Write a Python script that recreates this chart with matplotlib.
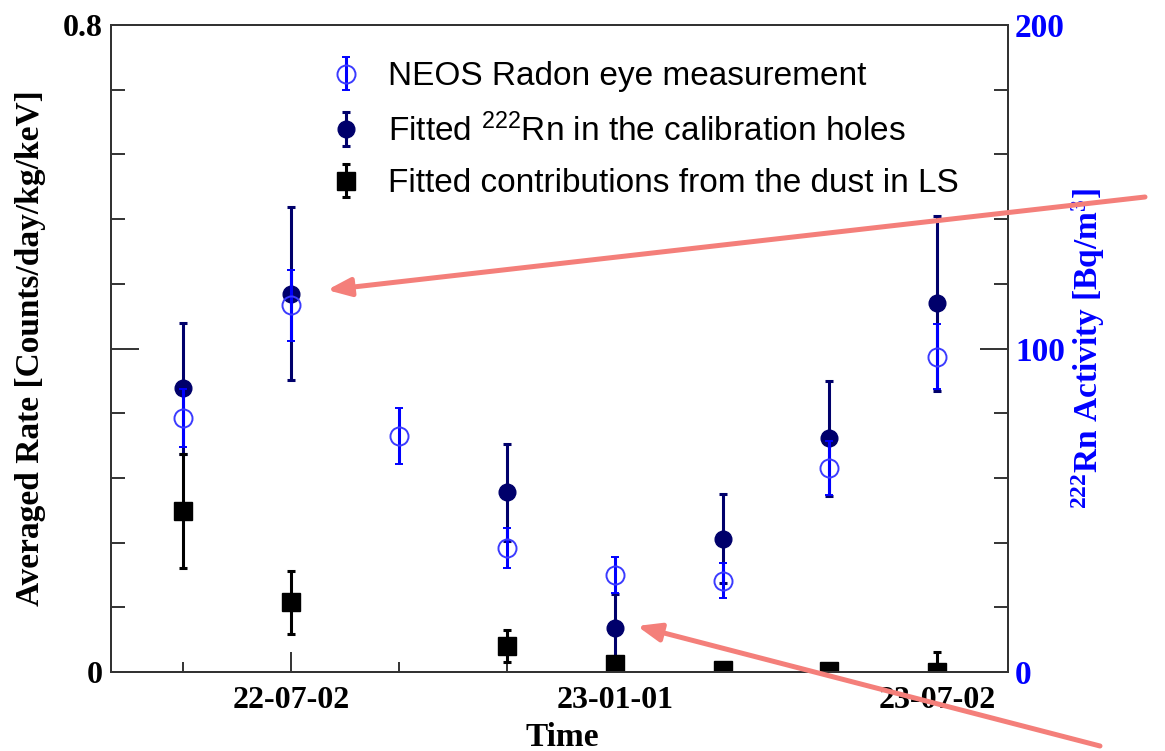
import numpy as np
import matplotlib
matplotlib.use("Agg")
import matplotlib.pyplot as plt
import matplotlib.dates as mdates
from matplotlib.ticker import FixedLocator, NullFormatter
plt.rcParams["font.family"] = "serif"
plt.rcParams["font.serif"] = ["Liberation Serif"]
plt.rcParams["font.weight"] = "bold"

# Measurement dates
dates_all = ["2022-05-02", "2022-07-02", "2022-09-01", "2022-11-01",
             "2023-01-01", "2023-03-03", "2023-05-02", "2023-07-02"]
dates_fit = ["2022-05-02", "2022-07-02", "2022-11-01", "2023-01-01",
             "2023-03-03", "2023-05-02", "2023-07-02"]

# NEOS Radon eye (Bq/m3, right axis)
radon_eye = [78.4, 113.4, 73.0, 38.3, 30.0, 28.2, 63.0, 97.5]
radon_eye_err = [9.0, 11.0, 8.6, 6.3, 5.7, 5.4, 8.3, 10.0]

# Fitted 222Rn in calibration holes (counts/day/kg/keV, left axis)
rn_fit = [0.351, 0.468, 0.222, 0.055, 0.165, 0.289, 0.456]
rn_fit_err = [0.081, 0.107, 0.060, 0.041, 0.055, 0.071, 0.108]

# Fitted dust contribution in LS (left axis)
dust = [0.199, 0.086, 0.032, 0.010, 0.003, 0.001, 0.0]
dust_err = [0.071, 0.039, 0.020, 0.010, 0.008, 0.006, 0.025]

major_dates = ["2022-07-02", "2023-01-01", "2023-07-02"]
major_labels = ["22-07-02", "23-01-01", "23-07-02"]
minor_dates = ["2022-05-02", "2022-09-01", "2022-11-01", "2023-03-03", "2023-05-02"]

x_all = mdates.datestr2num(dates_all)
x_fit = mdates.datestr2num(dates_fit)

navy = "#00006b"
blue = "#0000ff"
arrow_col = "#f47f7a"

fig = plt.figure(figsize=(11.65, 7.51), dpi=100)
ax = fig.add_axes([111/1165, 79/751, 897/1165, 647/751])
ax2 = ax.twinx()

e_rn = ax.errorbar(x_fit, rn_fit, yerr=rn_fit_err, fmt="o", color=navy,
                   ms=12, elinewidth=2.2, capsize=3, capthick=2.2)
e_dust = ax.errorbar(x_fit, dust, yerr=dust_err, fmt="s", color="black",
                     ms=13, elinewidth=2.2, capsize=3, capthick=2.2)
e_eye = ax2.errorbar(x_all, radon_eye, yerr=radon_eye_err, fmt="o", color=blue,
                     mfc="none", mec="#3b3bff", mew=1.4, ms=13,
                     elinewidth=2.2, capsize=3, capthick=2.2)

t0 = mdates.datestr2num("2022-07-02")
ax.set_xlim(t0 - 101.7, t0 + 405)
ax.set_ylim(0, 0.8)
ax2.set_ylim(0, 200)

# axis frame
for a in (ax, ax2):
    for sp in a.spines.values():
        sp.set_linewidth(1.4)
        sp.set_color("#333333")

ax.xaxis.set_major_locator(FixedLocator(mdates.datestr2num(major_dates)))
ax.xaxis.set_minor_locator(FixedLocator(mdates.datestr2num(minor_dates)))
ax.set_xticklabels(major_labels)
ax.xaxis.set_minor_formatter(NullFormatter())
ax.tick_params(axis="x", which="major", direction="in", length=14.4, width=1.4,
               color="#333333", labelsize=23, pad=10, top=False)
ax.tick_params(axis="x", which="minor", direction="in", length=7.2, width=1.4,
               color="#333333", top=False)

ax.set_yticks([0, 0.4, 0.8])
ax.set_yticklabels(["0", "", "0.8"])
ax.yaxis.set_minor_locator(FixedLocator(np.arange(0.08, 0.8, 0.08)))
ax.tick_params(axis="y", which="major", direction="in", length=20, width=1.4,
               color="#333333", labelsize=23, pad=6, right=False)
ax.tick_params(axis="y", which="minor", direction="in", length=10, width=1.4,
               color="#333333", right=False)

ax2.set_yticks([0, 100, 200])
ax2.yaxis.set_minor_locator(FixedLocator(np.arange(20, 200, 20)))
ax2.tick_params(axis="y", which="major", direction="in", length=20, width=1.4,
                color="#333333", labelsize=24, labelcolor=blue, pad=5)
ax2.tick_params(axis="y", which="minor", direction="in", length=10, width=1.4,
                color="#333333")

ax.set_xlabel("Time", fontsize=24, fontweight="bold")
ax.xaxis.set_label_coords(0.503, -0.077)
ax.set_ylabel("Averaged Rate [Counts/day/kg/keV]", fontsize=24, fontweight="bold")
ax.yaxis.set_label_coords(-0.072, 0.5)
ax2.set_ylabel(r"$\mathregular{^{222}}$Rn Activity [Bq/m$\mathregular{^{3}}$]",
               fontsize=24, fontweight="bold", color=blue, rotation=90)
ax2.yaxis.set_label_coords(1.068, 0.5)

leg = ax2.legend([e_eye, e_rn, e_dust],
                 ["NEOS Radon eye measurement",
                  r"Fitted $\mathregular{^{222}}$Rn in the calibration holes",
                  "Fitted contributions from the dust in LS"],
                 loc="upper left", bbox_to_anchor=(0.212, 0.99), frameon=False,
                 prop={"family": "Liberation Sans", "size": 24, "weight": "normal"},
                 handlelength=0.9, handletextpad=0.8, labelspacing=0.62,
                 numpoints=1)

# highlighting arrows (figure pixels, origin bottom-left)
ax2.annotate("", xy=(327, 461), xytext=(1145, 554),
             xycoords="figure pixels", textcoords="figure pixels",
             arrowprops=dict(arrowstyle="-|>,head_length=1.4,head_width=0.55",
                             color=arrow_col, lw=3.6, shrinkA=0, shrinkB=0),
             annotation_clip=False)
ax2.annotate("", xy=(637, 125), xytext=(1100, 5),
             xycoords="figure pixels", textcoords="figure pixels",
             arrowprops=dict(arrowstyle="-|>,head_length=1.4,head_width=0.55",
                             color=arrow_col, lw=3.6, shrinkA=0, shrinkB=0),
             annotation_clip=False)

fig.savefig("out.png", dpi=100)
